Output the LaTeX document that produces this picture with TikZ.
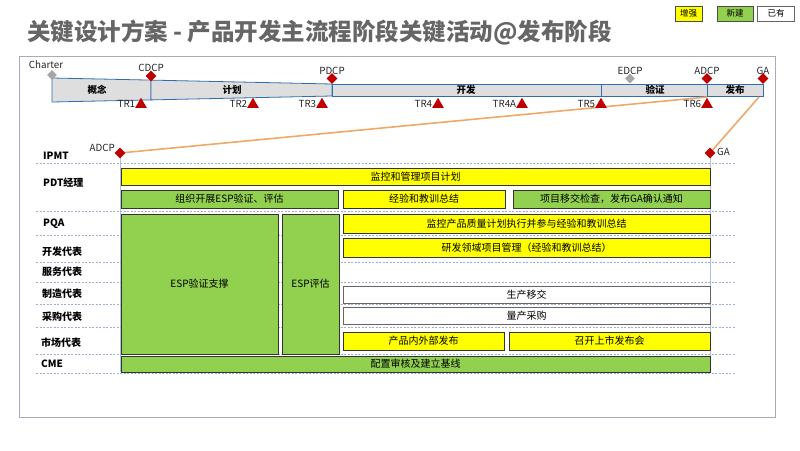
\documentclass[tikz,border=0pt]{standalone}
\usepackage{fontspec}
\setmainfont{Noto Sans CJK SC}
\usetikzlibrary{shapes.geometric}
\definecolor{ylw}{HTML}{FFFF00}
\definecolor{grn}{HTML}{92D050}
\definecolor{msred}{HTML}{C00000}
\definecolor{msgray}{HTML}{A6A6A6}
\definecolor{barfill}{HTML}{DEDEDE}
\definecolor{barline}{HTML}{2F6EB0}
\definecolor{frameline}{HTML}{A5AEB8}
\definecolor{dashline}{HTML}{9FB0C8}
\definecolor{vline}{HTML}{A8C4E0}
\definecolor{orangeline}{HTML}{F0A868}
\definecolor{titlegray}{HTML}{666666}
\tikzset{
  box/.style={draw=black!80, line width=0.6pt, inner sep=0pt, font=\fontsize{10}{12}\selectfont},
  ybox/.style={box, fill=ylw},
  gbox/.style={box, fill=grn},
  wbox/.style={box, fill=white, draw=black!60},
  rowlabel/.style={anchor=west, inner sep=0pt, font=\bfseries\fontsize{10}{12}\selectfont},
  barlabel/.style={inner sep=0pt, font=\bfseries\fontsize{9.5}{11}\selectfont},
  mslabel/.style={inner sep=0pt, font=\fontsize{9.8}{11}\selectfont, text=black!85},
  msdia/.style={diamond, fill=msred, inner sep=0pt, minimum size=11pt},
  msgdia/.style={diamond, fill=msgray, inner sep=0pt, minimum size=10pt},
  trtri/.style={regular polygon, regular polygon sides=3, fill=msred, inner sep=0pt, minimum size=13.5pt},
  sep/.style={dashline, dashed, dash pattern=on 2pt off 1.5pt, line width=0.6pt},
  phase/.style={fill=barfill, draw=barline, line width=0.8pt},
  olink/.style={orangeline, line width=1.6pt},
  legend/.style={inner sep=0pt, font=\fontsize{8.5}{10}\selectfont, line width=0.6pt}
}
\begin{document}
\begin{tikzpicture}[x=1pt,y=-1pt]
\useasboundingbox (0,0) rectangle (800,450);
\fill[white] (0,0) rectangle (800,450);

% title
\node[anchor=west, inner sep=0pt, text=titlegray, font=\bfseries\fontsize{23.5}{27}\selectfont] (title) at (27,33) {关键设计方案 - 产品开发主流程阶段关键活动@发布阶段};

% legend
\node[legend, fill=ylw, draw=black!70, minimum width=27pt, minimum height=15pt] (lg1) at (688.5,13.5) {增强};
\node[legend, fill=grn, draw=black!70, minimum width=36pt, minimum height=15pt] (lg2) at (735,13.5) {新建};
\node[legend, fill=white, draw=black!60, minimum width=37pt, minimum height=15pt] (lg3) at (776,13.5) {已有};

% frame
\draw[frameline, line width=0.8pt] (19,56) rectangle (775,417);

% timeline bar
\draw[phase] (52,78) -- (151,80.1) -- (151,99.9) -- (52,102) -- cycle;
\draw[phase] (151,80.1) -- (332,84) -- (332,96) -- (151,99.9) -- cycle;
\draw[phase] (332,84) rectangle (601,96);
\draw[phase] (601,84) rectangle (707,96);
\draw[phase] (707,84) rectangle (763,96);
\node[barlabel] (p1) at (97,90) {概念};
\node[barlabel] (p2) at (232,90) {计划};
\node[barlabel] (p3) at (466,90) {开发};
\node[barlabel] (p4) at (655,90) {验证};
\node[barlabel] (p5) at (735,90) {发布};

% milestones above
\node[msgdia] (charter) at (52,75) {};
\node[mslabel] (charterl) at (46,65) {Charter};
\node[msdia] (cdcp) at (151,76) {};
\node[mslabel] (cdcpl) at (151,68) {CDCP};
\node[msdia] (pdcp) at (332,78.5) {};
\node[mslabel] (pdcpl) at (332,70.5) {PDCP};
\node[msgdia] (edcp) at (630,78.5) {};
\node[mslabel] (edcpl) at (630,70.5) {EDCP};
\node[msdia] (adcp) at (707,78.5) {};
\node[mslabel] (adcpl) at (707,70.5) {ADCP};
\node[msdia] (ga) at (763,78.5) {};
\node[mslabel] (gal) at (763,70.5) {GA};

% IPMT milestone positions and vertical guide lines
\coordinate (iadcpc) at (120,153);
\coordinate (igac) at (710,153);
\coordinate (iadcpend) at (120,372);
\coordinate (igaend) at (710,372);
\draw[vline, line width=0.6pt] (iadcpc) -- (iadcpend);
\draw[vline, line width=0.6pt] (igac) -- (igaend);

% orange links
\coordinate (adcpbot) at (707,97);
\coordinate (gabot) at (759,97);
\draw[olink] (adcpbot) -- (iadcpc);
\draw[olink] (gabot) -- (igac);
\node[msdia] (iadcp) at (iadcpc) {};
\node[msdia] (iga) at (igac) {};
\node[mslabel, anchor=east] (iadcpl) at (115,148) {ADCP};
\node[mslabel, anchor=west] (igal) at (717,152) {GA};

% TR triangles
\foreach \n/\x in {TR1/141, TR2/253, TR3/322, TR4/438, TR4A/522, TR5/601, TR6/707}{
  \node[trtri] (t\n) at (\x,104.5) {};
  \node[mslabel, anchor=east] (l\n) at ([xshift=-1.5pt]t\n.west |- 0,104) {\n};
}

% row separators
\foreach \y in {163,211,235,262,282,304,327,354,373}{
  \draw[sep] (36,\y) -- (735,\y);
}

% row labels
\node[rowlabel] (rIPMT) at (43,156) {IPMT};
\node[rowlabel] (rPDT) at (43,183) {PDT经理};
\node[rowlabel] (rPQA) at (43,224) {PQA};
\node[rowlabel] (rDev) at (42,252) {开发代表};
\node[rowlabel] (rSvc) at (42,272) {服务代表};
\node[rowlabel] (rMfg) at (42,294) {制造代表};
\node[rowlabel] (rBuy) at (42,317) {采购代表};
\node[rowlabel] (rMkt) at (41,343) {市场代表};
\node[rowlabel] (rCME) at (41,364) {CME};

% activity boxes
\node[ybox, minimum width=589pt, minimum height=17pt] (plan) at (415.5,176.5) {监控和管理项目计划};
\node[gbox, minimum width=217pt, minimum height=18pt] (esporg) at (229.5,199) {组织开展ESP验证、评估};
\node[ybox, minimum width=162pt, minimum height=18pt] (lesson) at (424,199) {经验和教训总结};
\node[gbox, minimum width=197pt, minimum height=18pt] (handover) at (611.5,199) {项目移交检查，发布GA确认通知};
\node[gbox, minimum width=157pt, minimum height=140pt] (espsup) at (199.5,284) {ESP验证支撑};
\node[gbox, minimum width=57pt, minimum height=140pt] (espeval) at (310.5,284) {ESP评估};
\node[ybox, minimum width=367pt, minimum height=19pt] (pqa) at (526.5,223.5) {监控产品质量计划执行并参与经验和教训总结};
\node[ybox, minimum width=367pt, minimum height=19pt] (dev) at (526.5,247.5) {研发领域项目管理（经验和教训总结）};
\node[wbox, minimum width=367pt, minimum height=17pt] (mfg) at (526.5,294.5) {生产移交};
\node[wbox, minimum width=367pt, minimum height=17pt] (buy) at (526.5,315.5) {量产采购};
\node[ybox, minimum width=161pt, minimum height=18pt] (mkt1) at (423.5,341) {产品内外部发布};
\node[ybox, minimum width=201pt, minimum height=18pt] (mkt2) at (609.5,341) {召开上市发布会};
\node[gbox, minimum width=589pt, minimum height=16pt] (cme) at (415.5,364) {配置审核及建立基线};
\end{tikzpicture}
\end{document}
